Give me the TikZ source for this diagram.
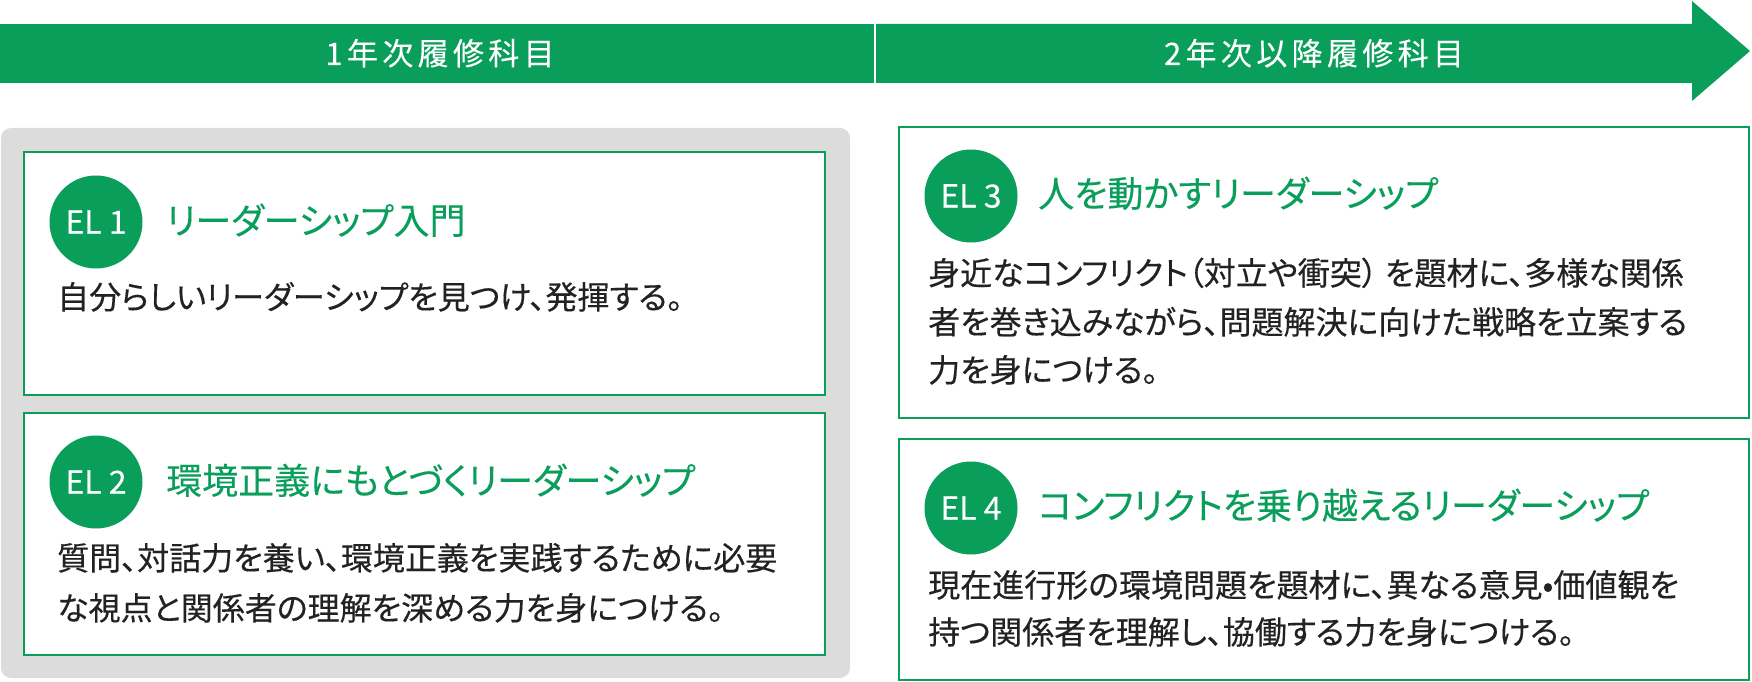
\documentclass[tikz,border=0pt]{standalone}
\usepackage{fontspec}
\setmainfont{Noto Sans CJK JP}
\newfontfamily\jpbody{Noto Sans CJK JP}[RawFeature={+palt}, FakeBold=0.35]
\newfontfamily\jphead{Noto Sans CJK JP}[LetterSpace=14, FakeBold=0.2]
\newfontfamily\jptitle{Noto Sans CJK JP}[RawFeature={+palt}, FakeBold=0.2]
\newfontfamily\jplatin{Noto Sans CJK JP}[FakeBold=0.2]
\definecolor{elgreen}{HTML}{0A9E5B}
\definecolor{elgray}{HTML}{DCDCDC}
\definecolor{eltext}{HTML}{222222}
\tikzset{
  barpart/.style={fill=elgreen, draw=none},
  headtext/.style={text=white, inner sep=0pt, anchor=base, font=\jphead\fontsize{31}{31}\selectfont},
  panel/.style={fill=elgray, draw=none, rounded corners=10pt},
  elbox/.style={fill=white, draw=elgreen, line width=2pt},
  elcircle/.style={circle, fill=elgreen, draw=none, minimum size=93pt, inner sep=0pt, text=white, font=\jplatin\fontsize{32}{32}\selectfont},
  eltitle/.style={text=elgreen, inner sep=0pt, anchor=base west, font=\jptitle\fontsize{36}{36}\selectfont},
  elbody/.style={text=eltext, inner sep=0pt, anchor=base west, font=\jpbody\fontsize{32}{32}\selectfont},
}
\begin{document}
\begin{tikzpicture}[x=1pt,y=-1pt]
\useasboundingbox (0,0) rectangle (1752,682);
% header bar
\path[barpart] (0,24) rectangle (874,83);
\path[barpart] (876,24) -- (1692,24) -- (1692,1) -- (1750,51) -- (1692,101) -- (1692,83) -- (876,83) -- cycle;
\node[headtext] (h1) at (440,65) {1年次履修科目};
\node[headtext] (h2) at (1314,65) {2年次以降履修科目};
% gray panel
\path[panel] (1,128) rectangle (850,678);
% boxes
\draw[elbox] (24,152) rectangle (825,395);
\draw[elbox] (24,413) rectangle (825,655);
\draw[elbox] (899,127) rectangle (1749,418);
\draw[elbox] (899,439) rectangle (1749,680);
% EL1
\node[elcircle] (c1) at (96,222) {EL 1};
\node[eltitle] (t1) at (166,234) {リーダーシップ入門};
\node[elbody] (b1) at (57,309) {自分らしいリーダーシップを見つけ、発揮する。};
% EL2
\node[elcircle] (c2) at (96,482) {EL 2};
\node[eltitle] (t2) at (166,494) {環境正義にもとづくリーダーシップ};
\node[elbody] (b2a) at (57,570) {質問、対話力を養い、環境正義を実践するために必要};
\node[elbody] (b2b) at (57,620) {な視点と関係者の理解を深める力を身につける。};
% EL3
\node[elcircle] (c3) at (971,196) {EL 3};
\node[eltitle] (t3) at (1038,207) {人を動かすリーダーシップ};
\node[elbody] (b3a) at (928,285) {身近なコンフリクト（対立や衝突） を題材に、多様な関係};
\node[elbody] (b3b) at (928,334) {者を巻き込みながら、問題解決に向けた戦略を立案する};
\node[elbody] (b3c) at (928,382) {力を身につける。};
% EL4
\node[elcircle] (c4) at (971,508) {EL 4};
\node[eltitle] (t4) at (1038,519) {コンフリクトを乗り越えるリーダーシップ};
\node[elbody] (b4a) at (928,597) {現在進行形の環境問題を題材に、異なる意見•価値観を};
\node[elbody] (b4b) at (928,644) {持つ関係者を理解し、協働する力を身につける。};
\end{tikzpicture}
\end{document}
